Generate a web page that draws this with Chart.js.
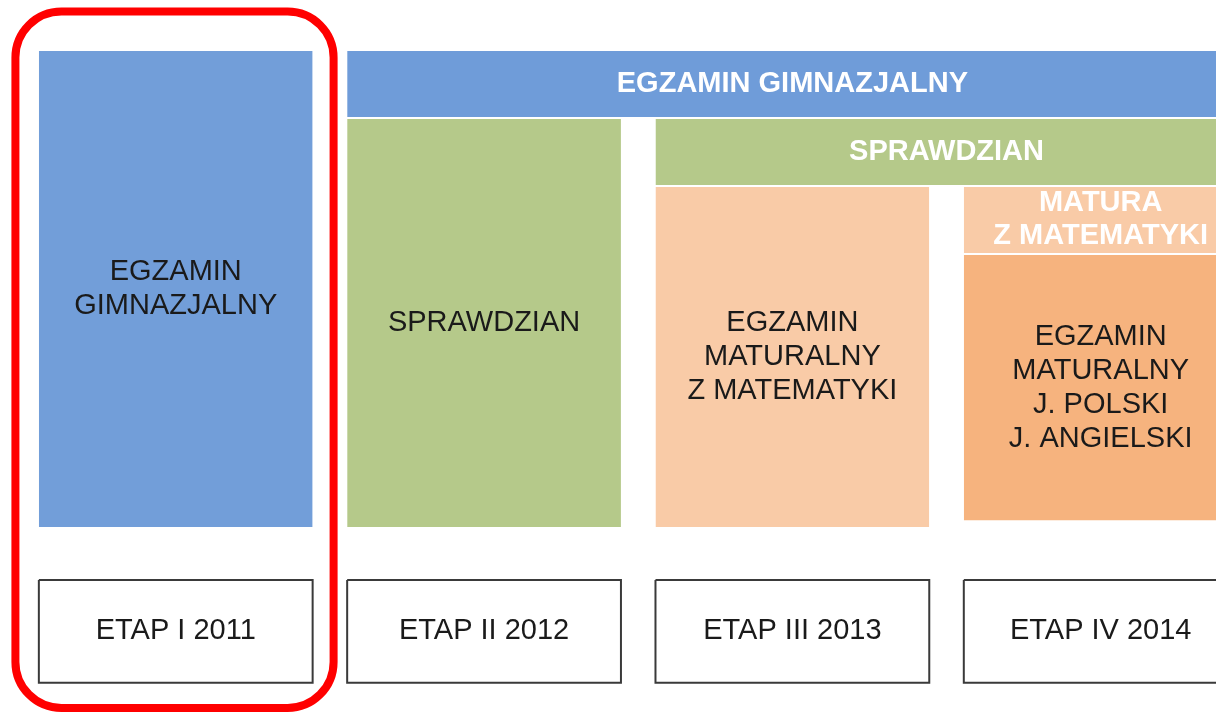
<!DOCTYPE html>
<html lang="pl">
<head>
<meta charset="utf-8">
<title>Etapy egzaminów</title>
<script src="https://cdn.jsdelivr.net/npm/chart.js@4.4.1/dist/chart.umd.min.js"></script>
<style>
  html, body { margin: 0; padding: 0; background: #fff; overflow: hidden; }
  canvas { display: block; }
</style>
</head>
<body>
<canvas id="chart" width="1216" height="714"></canvas>
<script>
// Etapy (oś pozioma: numer etapu 1..4)
const stages = ['ETAP I 2011', 'ETAP II 2012', 'ETAP III 2013', 'ETAP IV 2014'];

// Bloki: od etapu, do etapu, poziom dolny, poziom górny
const blockNames = [
  'EGZAMIN\nGIMNAZJALNY',
  'SPRAWDZIAN',
  'EGZAMIN\nMATURALNY\nZ MATEMATYKI',
  'EGZAMIN\nMATURALNY\nJ. POLSKI\nJ. ANGIELSKI',
  'EGZAMIN GIMNAZJALNY',
  'SPRAWDZIAN',
  'MATURA\nZ MATEMATYKI'
];
const blockFrom = [1, 2, 3, 4, 2, 3, 4];
const blockTo   = [1, 2, 3, 4, 4, 4, 4];
const blockBase = [0, 0, 0, 0.1, 6, 5, 4];
const blockTop  = [7, 6, 5, 4,   7, 6, 5];

const highlightedStage = 1;

// Styl
const blockColors = ['#729ed9', '#b5c98a', '#f9cba7', '#f6b37e', '#6f9cd9', '#b5c98a', '#f9cba7'];
const blockStrip  = [false, false, false, false, true, true, true];
const FONT = "'Liberation Sans', Arial, sans-serif";
const COL_HALF = 0.444;   // połowa szerokości kolumny (w jednostkach etapu)
const GAP = 0.03;         // biały odstęp między paskami
const LABEL_TOP = -0.78, LABEL_BOTTOM = -2.29;

function bottomOf(i){
  const b = blockBase[i];
  return (Number.isInteger(b) && b > 0) ? b + GAP : b;
}

const blockSets = blockNames.map((name, i) => ({
  label: name.replace(/\n/g, ' '),
  data: [
    { x: blockFrom[i] - COL_HALF, y: blockTop[i] },
    { x: blockTo[i] + COL_HALF, y: blockTop[i] }
  ],
  showLine: true,
  borderWidth: 0,
  borderColor: 'rgba(0,0,0,0)',
  backgroundColor: blockColors[i],
  fill: { value: bottomOf(i) },
  pointRadius: 0
}));

const labelSets = stages.map((s, i) => {
  const c = i + 1;
  return {
    label: s,
    data: [
      { x: c - COL_HALF, y: LABEL_TOP },
      { x: c + COL_HALF, y: LABEL_TOP },
      { x: c + COL_HALF, y: LABEL_BOTTOM },
      { x: c - COL_HALF, y: LABEL_BOTTOM },
      { x: c - COL_HALF, y: LABEL_TOP }
    ],
    showLine: true,
    fill: false,
    borderColor: '#3a3a3a',
    borderWidth: 2,
    pointRadius: 0
  };
});

function drawLines(ctx, text, cx, cy, font, color, lh){
  const lines = text.split('\n');
  ctx.font = font;
  ctx.fillStyle = color;
  ctx.textAlign = 'center';
  ctx.textBaseline = 'middle';
  lines.forEach((l, k) => ctx.fillText(l, cx, cy + (k - (lines.length - 1) / 2) * lh));
}

const textPlugin = {
  id: 'blockText',
  afterDatasetsDraw(chart){
    const { ctx, scales: { x, y } } = chart;
    ctx.save();
    blockNames.forEach((name, i) => {
      const cx = x.getPixelForValue((blockFrom[i] + blockTo[i]) / 2);
      const cy = (y.getPixelForValue(blockTop[i]) + y.getPixelForValue(bottomOf(i))) / 2;
      if (blockStrip[i]) drawLines(ctx, name, cx, cy, 'bold 29px ' + FONT, '#ffffff', 33);
      else drawLines(ctx, name, cx, cy, '29px ' + FONT, '#1a1a1a', 34);
    });
    stages.forEach((s, i) => {
      const cx = x.getPixelForValue(i + 1);
      const cy = (y.getPixelForValue(LABEL_TOP) + y.getPixelForValue(LABEL_BOTTOM)) / 2;
      drawLines(ctx, s, cx, cy, '29px ' + FONT, '#1a1a1a', 34);
    });
    ctx.restore();
  }
};

const highlightPlugin = {
  id: 'highlight',
  afterDraw(chart){
    const { ctx, scales: { x, y } } = chart;
    const x0 = x.getPixelForValue(highlightedStage - 0.52);
    const x1 = x.getPixelForValue(highlightedStage + 0.512);
    const y0 = y.getPixelForValue(7.58);
    const y1 = y.getPixelForValue(-2.66);
    const r = 46;
    ctx.save();
    ctx.beginPath();
    ctx.moveTo(x0 + r, y0);
    ctx.arcTo(x1, y0, x1, y1, r);
    ctx.arcTo(x1, y1, x0, y1, r);
    ctx.arcTo(x0, y1, x0, y0, r);
    ctx.arcTo(x0, y0, x1, y0, r);
    ctx.closePath();
    ctx.lineWidth = 8;
    ctx.strokeStyle = '#ff0000';
    ctx.stroke();
    ctx.restore();
  }
};

new Chart(document.getElementById('chart').getContext('2d'), {
  type: 'scatter',
  data: { datasets: [...blockSets, ...labelSets] },
  options: {
    responsive: false,
    animation: false,
    layout: { padding: 0 },
    elements: { line: { tension: 0 }, point: { radius: 0 } },
    plugins: { legend: { display: false }, tooltip: { enabled: false } },
    scales: {
      x: { type: 'linear', min: 0.43, max: 4.374, display: false },
      y: { type: 'linear', min: -2.75, max: 7.75, display: false }
    }
  },
  plugins: [textPlugin, highlightPlugin]
});
</script>
</body>
</html>
